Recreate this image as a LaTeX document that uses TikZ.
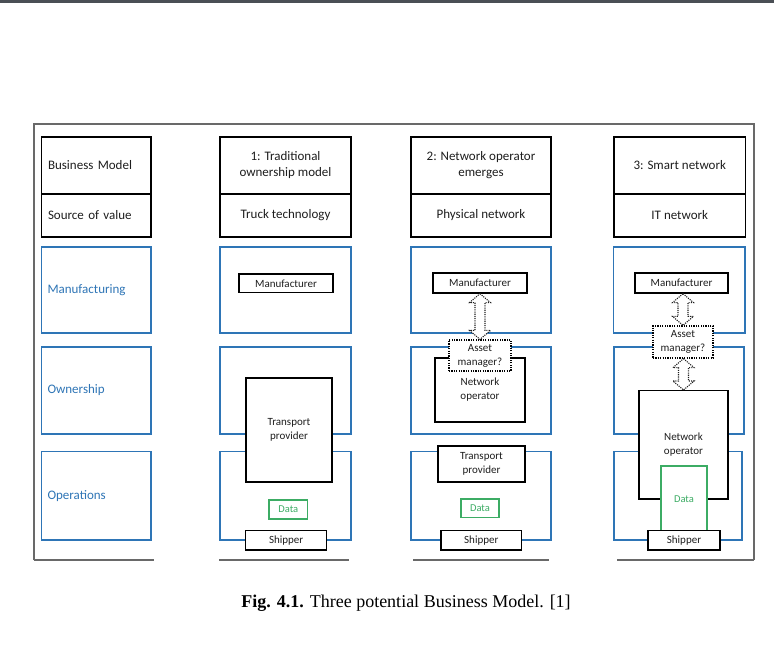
\documentclass[tikz,border=0pt]{standalone}
\usepackage{fontspec}
\setmainfont{Carlito}
\newfontfamily\capfont{Liberation Serif}
\usetikzlibrary{calc}
\definecolor{bmblue}{RGB}{46,117,182}
\definecolor{bmgreen}{RGB}{60,172,100}
\definecolor{framegray}{RGB}{105,105,105}
\definecolor{topbar}{RGB}{74,79,85}
\definecolor{txt}{RGB}{30,30,30}
\tikzset{
  hdrbox/.style={draw=black, line width=1.4pt, inner sep=0pt, align=center, text=txt, font=\fontsize{13}{16}\selectfont},
  hdrlabel/.style={hdrbox, align=left, inner xsep=6.5pt, text width=96.5pt},
  rowbox/.style={draw=bmblue, line width=1.4pt, inner sep=0pt},
  rowlabel/.style={rowbox, text=bmblue, align=left, inner xsep=6pt, text width=97.5pt, font=\fontsize{13}{16}\selectfont},
  actor/.style={draw=black, fill=white, line width=1.3pt, inner sep=0pt, align=center, text=txt, font=\fontsize{11}{14}\selectfont},
  assetbox/.style={actor, dash pattern=on 1.2pt off 1.2pt},
  databox/.style={draw=bmgreen, fill=white, text=bmgreen, line width=1.3pt, inner sep=0pt, font=\fontsize{10.5}{13}\selectfont},
  arrowshape/.style={draw=txt, fill=white, line width=1.1pt, dash pattern=on 1.1pt off 1.1pt},
  framelines/.style={draw=framegray, line width=1.2pt},
}
\newcommand\hollowdbl[2]{%
  \path[arrowshape] let \p1=(#1), \p2=(#2) in
  (\x2,\y1) -- (\x2+10.5pt,\y1-9pt) -- (\x2+5pt,\y1-9pt) -- (\x2+5pt,\y2+9pt)
  -- (\x2+10.5pt,\y2+9pt) -- (\x2,\y2) -- (\x2-10.5pt,\y2+9pt) -- (\x2-5pt,\y2+9pt)
  -- (\x2-5pt,\y1-9pt) -- (\x2-10.5pt,\y1-9pt) -- cycle;}
\begin{document}
\begin{tikzpicture}[x=1pt,y=-1pt]
\useasboundingbox (0,0) rectangle (774,651);
\fill[white] (0,0) rectangle (774,651);
\fill[topbar] (0,0) rectangle (774,3.3);
% frame
\coordinate (ftl) at (34,124);
\coordinate (ftr) at (754,124);
\coordinate (fbl) at (34,560);
\coordinate (fbr) at (754,560);
\draw[framelines] (fbl) -- (ftl) -- (ftr) -- (fbr);
\coordinate (b0a) at (34,560); \coordinate (b0b) at (154,560);
\coordinate (b1a) at (219,560); \coordinate (b1b) at (349,560);
\coordinate (b2a) at (413,560); \coordinate (b2b) at (549,560);
\coordinate (b3a) at (617,560); \coordinate (b3b) at (754,560);
\draw[framelines] (b0a) -- (b0b) (b1a) -- (b1b) (b2a) -- (b2b) (b3a) -- (b3b);

% column 0 labels
\node[hdrlabel, minimum height=57pt] (bm0) at (96.25,165.5) {Business Model};
\node[hdrlabel, minimum height=43pt] (sv0) at (96.25,215.5) {Source of value};
\node[rowlabel, minimum height=86pt] (mf0) at (96.25,290) {Manufacturing};
\node[rowlabel, minimum height=87pt] (ow0) at (96.25,390.5) {Ownership};
\node[rowlabel, minimum height=88.5pt] (op0) at (96.25,495.75) {Operations};

% column 1
\node[hdrbox, minimum width=131pt, minimum height=57pt] (bm1) at (285.5,165.5) {1: Traditional\\ownership model};
\node[hdrbox, minimum width=131pt, minimum height=43pt] (sv1) at (285.5,215.5) {Truck technology};
\node[rowbox, minimum width=131pt, minimum height=86pt] (mf1) at (285.5,290) {};
\node[rowbox, minimum width=131pt, minimum height=87pt] (ow1) at (285.5,390.5) {};
\node[rowbox, minimum width=131pt, minimum height=88.5pt] (op1) at (285.5,495.75) {};
\node[actor, minimum width=94pt, minimum height=18.7pt] (man1) at (286,283.3) {Manufacturer};
\node[actor, minimum width=86pt, minimum height=104pt] (tp1) at (289,430) {Transport\\provider};
\node[databox, minimum width=38.7pt, minimum height=19pt] (dat1) at (288.3,509.5) {Data};
\node[actor, minimum width=81pt, minimum height=19.3pt] (sh1) at (286.2,540.3) {Shipper};

% column 2
\node[hdrbox, minimum width=140pt, minimum height=57pt] (bm2) at (481,165.5) {2: Network operator\\emerges};
\node[hdrbox, minimum width=140pt, minimum height=43pt] (sv2) at (481,215.5) {Physical network};
\node[rowbox, minimum width=140pt, minimum height=86pt] (mf2) at (481,290) {};
\node[rowbox, minimum width=140pt, minimum height=87pt] (ow2) at (481,390.5) {};
\node[rowbox, minimum width=140pt, minimum height=88.5pt] (op2) at (481,495.75) {};
\node[actor, minimum width=94pt, minimum height=20pt] (man2) at (480,283) {Manufacturer};
\node[actor, minimum width=90pt, minimum height=64pt] (net2) at (480,390) {Network\\operator};
\node[assetbox, minimum width=62pt, minimum height=31pt] (am2) at (480,355.5) {Asset\\manager?};
\hollowdbl{man2.south}{am2.north}
\node[actor, minimum width=87pt, minimum height=36pt] (tp2) at (481.5,464) {Transport\\provider};
\node[databox, minimum width=38pt, minimum height=18.7pt] (dat2) at (480,508.3) {Data};
\node[actor, minimum width=80.7pt, minimum height=19.3pt] (sh2) at (481.3,540.3) {Shipper};

% column 3
\node[hdrbox, minimum width=131.5pt, minimum height=57pt] (bm3) at (679.75,165.5) {3: Smart network};
\node[hdrbox, minimum width=131.5pt, minimum height=43pt] (sv3) at (679.75,215.5) {IT network};
\node[rowbox, minimum width=131.5pt, minimum height=86pt] (mf3) at (679.25,290) {};
\node[rowbox, minimum width=130pt, minimum height=87pt] (ow3) at (679,390.5) {};
\node[rowbox, minimum width=128pt, minimum height=88.5pt] (op3) at (678,495.75) {};
\node[actor, minimum width=93pt, minimum height=20pt] (man3) at (681.5,283) {Manufacturer};
\node[actor, minimum width=89pt, minimum height=108.3pt] (net3) at (683.5,444.8) {Network\\operator};
\node[assetbox, minimum width=60pt, minimum height=32pt] (am3) at (683,342) {Asset\\manager?};
\hollowdbl{man3.south}{am3.north}
\hollowdbl{am3.south}{net3.north}
\node[databox, minimum width=46pt, minimum height=66pt] (dat3) at (684,499) {Data};
\node[actor, minimum width=72pt, minimum height=19.3pt] (sh3) at (684,540.3) {Shipper};

% caption
\node[font=\capfont\fontsize{18}{21}\selectfont, text=black] (cap) at (406,603) {\textbf{Fig. 4.1.} Three potential Business Model. [1]};
\end{tikzpicture}
\end{document}
